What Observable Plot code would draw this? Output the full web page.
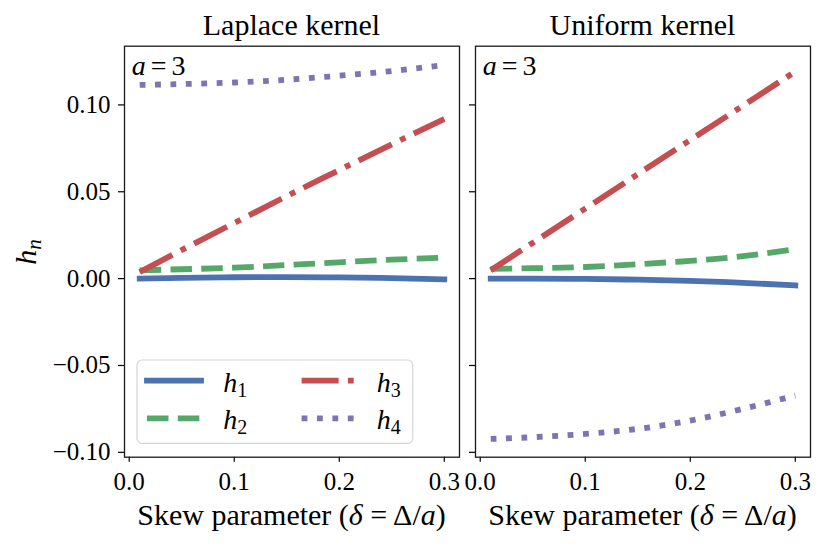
<!DOCTYPE html>
<html><head><meta charset="utf-8">
<script src="https://cdn.jsdelivr.net/npm/d3@7"></script>
<script src="https://cdn.jsdelivr.net/npm/@observablehq/plot@0.6"></script>
<style>body{margin:0}</style>
</head><body>
<div id="chart" style="display:flex;width:830px;height:546px;font-family:'Liberation Serif'"></div>
<script>
const deltas = [0.01, 0.05, 0.10, 0.15, 0.20, 0.25, 0.30];
const laplaceH1 = [0.0000, 0.0004, 0.0008, 0.0009, 0.0007, 0.0003, -0.0004];
const laplaceH2 = [0.0048, 0.0054, 0.0063, 0.0078, 0.0094, 0.0109, 0.0121];
const laplaceH3 = [0.0038, 0.0165, 0.0320, 0.0475, 0.0625, 0.0773, 0.0919];
const laplaceH4 = [0.1115, 0.1120, 0.1129, 0.1145, 0.1168, 0.1195, 0.1230];
const uniformH1 = [0.0000, 0.0000, -0.0002, -0.0006, -0.0013, -0.0024, -0.0039];
const uniformH2 = [0.0056, 0.0060, 0.0067, 0.0083, 0.0102, 0.0129, 0.0169];
const uniformH3 = [0.0048, 0.0206, 0.0403, 0.0601, 0.0798, 0.0995, 0.1192];
const uniformH4 = [-0.0923, -0.0913, -0.0894, -0.0865, -0.0817, -0.0750, -0.0673];

const seriesSubs = ["1", "2", "3", "4"];
const seriesColors = ["#4C72B0", "#55A868", "#C44E52", "#8172B2"];
const seriesDash = [undefined, "21.5,9.3", "37,9.3,5.8,9.3", "5.8,9.6"];
const seriesCap = ["square", "butt", "butt", "butt"];
const xTicks = [0.0, 0.1, 0.2, 0.3];
const yTicks = [-0.10, -0.05, 0.00, 0.05, 0.10];
const panelTitles = ["Laplace kernel", "Uniform kernel"];
const annotation = ["a", "=", "3"];
const xLabelParts = ["Skew parameter (", "δ", " = ", "Δ", "/", "a", ")"];

const xDomain = [-0.0045, 0.3145];
const yDomain = [-0.1028, 0.1338];
const FONT = "'Liberation Serif'";

function rows(vals) { return deltas.map((d, i) => ({x: d, y: vals[i]})); }

function makePanel({series, title, width, marginLeft, marginRight, showYLabels}) {
  const marks = [];
  series.forEach((vals, k) => {
    marks.push(Plot.line(rows(vals), {
      x: "x", y: "y", stroke: seriesColors[k], strokeWidth: 5.8,
      strokeDasharray: seriesDash[k], strokeLinecap: seriesCap[k],
      strokeLinejoin: "round", curve: "natural"
    }));
  });
  marks.push(Plot.axisX({ticks: xTicks, tickFormat: d3.format(".1f"), tickSize: 5, tickPadding: 10, fontSize: 25, label: null, strokeWidth: 1.2}));
  marks.push(Plot.axisY({ticks: yTicks, tickFormat: showYLabels ? (d => d3.format(".2f")(d)) : (() => ""), tickSize: 6, tickPadding: 8, fontSize: 25, label: null, strokeWidth: 1.2}));
  marks.push(Plot.frame({stroke: "#1a1a1a", strokeWidth: 1.3}));
  const svg = Plot.plot({
    width, height: 546,
    marginLeft, marginRight, marginTop: 45.7, marginBottom: 89.3,
    x: {domain: xDomain},
    y: {domain: yDomain},
    style: {fontFamily: FONT, fontSize: "25px"},
    marks
  });
  const s = d3.select(svg);
  const fx0 = marginLeft, fx1 = width - marginRight;
  s.append("text").attr("x", (fx0 + fx1) / 2).attr("y", 35).attr("text-anchor", "middle")
    .attr("font-size", 30).attr("fill", "black").text(title);
  const t = s.append("text").attr("x", fx0 + 7.7).attr("y", 75).attr("text-anchor", "start")
    .attr("font-size", 28).attr("fill", "black");
  t.append("tspan").attr("font-style", "italic").text(annotation[0]);
  t.append("tspan").attr("dx", 5).text(annotation[1]);
  t.append("tspan").attr("dx", 5).text(annotation[2]);
  const xl = s.append("text").attr("x", (fx0 + fx1) / 2).attr("y", 525).attr("text-anchor", "middle")
    .attr("font-size", 30).attr("fill", "black");
  xLabelParts.forEach((p, i) => {
    const ts = xl.append("tspan").text(p);
    if (i === 1 || i === 5) ts.attr("font-style", "italic");
  });
  return s;
}

const chart = document.getElementById("chart");

const leftS = makePanel({series: [laplaceH1, laplaceH2, laplaceH3, laplaceH4], title: panelTitles[0], width: 465, marginLeft: 124, marginRight: 6, showYLabels: true});
chart.appendChild(leftS.node());
const rightS = makePanel({series: [uniformH1, uniformH2, uniformH3, uniformH4], title: panelTitles[1], width: 365, marginLeft: 10, marginRight: 20, showYLabels: false});
chart.appendChild(rightS.node());

// y label h_n
const yl = leftS.append("text").attr("transform", "translate(36,252) rotate(-90)").attr("text-anchor", "middle")
  .attr("font-size", 30).attr("fill", "black");
yl.append("tspan").attr("font-style", "italic").text("h");
yl.append("tspan").attr("font-style", "italic").attr("font-size", 21).attr("dy", 5).text("n");

// legend
const lg = leftS.append("g");
lg.append("rect").attr("x", 137).attr("y", 360).attr("width", 275.7).attr("height", 83.3).attr("rx", 5)
  .attr("fill", "white").attr("fill-opacity", 0.8).attr("stroke", "#d6d6d6").attr("stroke-width", 1.2);
const legPos = [[147, 380.7, 223.3], [147, 418.3, 223.3], [301.6, 380.7, 376.7], [301.6, 418.3, 376.7]];
seriesSubs.forEach((sub, k) => {
  const [x0, y, tx] = legPos[k];
  lg.append("line").attr("x1", x0).attr("x2", x0 + 54).attr("y1", y).attr("y2", y)
    .attr("stroke", seriesColors[k]).attr("stroke-width", 5.8)
    .attr("stroke-dasharray", seriesDash[k] || null).attr("stroke-linecap", seriesCap[k]);
  const tt = lg.append("text").attr("x", tx).attr("y", y + 11).attr("text-anchor", "start")
    .attr("font-size", 28).attr("fill", "black");
  tt.append("tspan").attr("font-style", "italic").text("h");
  tt.append("tspan").attr("font-size", 20).attr("dy", 5).text(sub);
});

// force the serif family as an inline style on every text element
document.querySelectorAll("#chart svg text, #chart svg tspan").forEach(el => {
  el.style.fontFamily = FONT;
  el.removeAttribute("font-family");
});
</script>
</body></html>
